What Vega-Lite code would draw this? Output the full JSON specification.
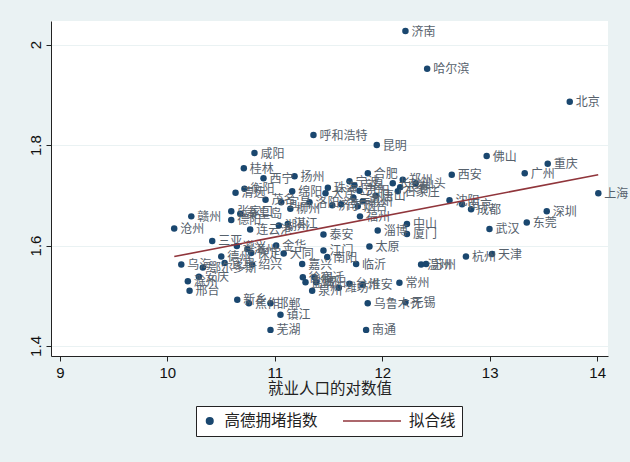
{
  "$schema": "https://vega.github.io/schema/vega-lite/v6.json",
  "width": 557,
  "height": 335,
  "autosize": {"type": "none"},
  "padding": {"left": 51, "top": 21, "right": 22, "bottom": 106},
  "background": "#eaf2f3",
  "config": {
    "view": {"stroke": null, "fill": "white"},
    "axis": {"labelFont": "Liberation Sans", "labelFontSize": 15, "labelColor": "#111", "domainColor": "#222", "tickColor": "#222", "tickSize": 5, "titleFont": "Noto Sans CJK SC", "titleFontWeight": "normal", "titleColor": "#222"},
    "legend": {"symbolStrokeWidth": 1.6, "labelOffset": 7}
  },
  "datasets": {
    "pts": [
      {"name": "济南", "x": 12.216, "y": 2.027},
      {"name": "哈尔滨", "x": 12.418, "y": 1.952},
      {"name": "北京", "x": 13.745, "y": 1.886},
      {"name": "呼和浩特", "x": 11.36, "y": 1.82},
      {"name": "昆明", "x": 11.949, "y": 1.8},
      {"name": "咸阳", "x": 10.811, "y": 1.784},
      {"name": "桂林", "x": 10.712, "y": 1.754},
      {"name": "西宁", "x": 10.895, "y": 1.734},
      {"name": "扬州", "x": 11.184, "y": 1.738},
      {"name": "衡阳", "x": 10.718, "y": 1.713},
      {"name": "清远", "x": 10.635, "y": 1.705},
      {"name": "绵阳", "x": 11.162, "y": 1.708},
      {"name": "茂名", "x": 10.914, "y": 1.691},
      {"name": "宜昌", "x": 11.06, "y": 1.686},
      {"name": "柳州", "x": 11.145, "y": 1.673},
      {"name": "张家口", "x": 10.595, "y": 1.668},
      {"name": "秦皇岛", "x": 10.679, "y": 1.663},
      {"name": "赣州", "x": 10.223, "y": 1.658},
      {"name": "德阳", "x": 10.595, "y": 1.651},
      {"name": "沧州", "x": 10.064, "y": 1.634},
      {"name": "连云港", "x": 10.771, "y": 1.632},
      {"name": "湖州", "x": 11.038, "y": 1.64},
      {"name": "湛江", "x": 11.121, "y": 1.643},
      {"name": "三亚", "x": 10.418, "y": 1.609},
      {"name": "遵义", "x": 10.647, "y": 1.599},
      {"name": "漳州", "x": 10.746, "y": 1.593},
      {"name": "保定", "x": 10.781, "y": 1.585},
      {"name": "绍兴", "x": 10.79, "y": 1.562},
      {"name": "金华", "x": 11.013, "y": 1.6},
      {"name": "大同", "x": 11.083, "y": 1.584},
      {"name": "德州", "x": 10.502, "y": 1.578},
      {"name": "宜宾", "x": 10.533, "y": 1.565},
      {"name": "乌海", "x": 10.13, "y": 1.562},
      {"name": "鄂尔多斯", "x": 10.331, "y": 1.556},
      {"name": "安庆", "x": 10.294, "y": 1.538},
      {"name": "滁州", "x": 10.191, "y": 1.529},
      {"name": "邢台", "x": 10.207, "y": 1.51},
      {"name": "新乡", "x": 10.651, "y": 1.492},
      {"name": "焦作", "x": 10.759, "y": 1.485},
      {"name": "邯郸", "x": 10.96, "y": 1.485},
      {"name": "镇江", "x": 11.053, "y": 1.462},
      {"name": "芜湖", "x": 10.96, "y": 1.432},
      {"name": "嘉兴", "x": 11.255, "y": 1.563},
      {"name": "泰安", "x": 11.453, "y": 1.622},
      {"name": "江门", "x": 11.453, "y": 1.59},
      {"name": "南阳", "x": 11.488, "y": 1.577},
      {"name": "临沂", "x": 11.757, "y": 1.563},
      {"name": "太原", "x": 11.881, "y": 1.598},
      {"name": "淄博", "x": 11.958, "y": 1.63},
      {"name": "中山", "x": 12.23, "y": 1.643},
      {"name": "厦门", "x": 12.23, "y": 1.623},
      {"name": "福州", "x": 11.793, "y": 1.658},
      {"name": "温州", "x": 12.362, "y": 1.562},
      {"name": "苏州", "x": 12.408, "y": 1.563},
      {"name": "徐州", "x": 11.261, "y": 1.537},
      {"name": "盐城", "x": 11.286, "y": 1.527},
      {"name": "宿迁", "x": 11.37, "y": 1.537},
      {"name": "揭阳", "x": 11.385, "y": 1.527},
      {"name": "泉州", "x": 11.348, "y": 1.51},
      {"name": "潍坊", "x": 11.596, "y": 1.516},
      {"name": "台州", "x": 11.695, "y": 1.524},
      {"name": "淮安", "x": 11.819, "y": 1.522},
      {"name": "常州", "x": 12.16, "y": 1.526},
      {"name": "乌鲁木齐", "x": 11.865, "y": 1.485},
      {"name": "无锡", "x": 12.216, "y": 1.487},
      {"name": "南通", "x": 11.85, "y": 1.432},
      {"name": "天津", "x": 13.022, "y": 1.583},
      {"name": "杭州", "x": 12.779, "y": 1.578},
      {"name": "武汉", "x": 12.998, "y": 1.633},
      {"name": "东莞", "x": 13.345, "y": 1.646},
      {"name": "深圳", "x": 13.531, "y": 1.668},
      {"name": "上海", "x": 14.011, "y": 1.704},
      {"name": "广州", "x": 13.326, "y": 1.744},
      {"name": "重庆", "x": 13.54, "y": 1.763},
      {"name": "佛山", "x": 12.972, "y": 1.778},
      {"name": "西安", "x": 12.647, "y": 1.741},
      {"name": "沈阳", "x": 12.626, "y": 1.69},
      {"name": "南京", "x": 12.743, "y": 1.682},
      {"name": "成都", "x": 12.827, "y": 1.672},
      {"name": "合肥", "x": 11.866, "y": 1.744},
      {"name": "宁波", "x": 11.695, "y": 1.728},
      {"name": "南昌", "x": 11.741, "y": 1.72},
      {"name": "贵阳", "x": 11.788, "y": 1.709},
      {"name": "长沙", "x": 12.098, "y": 1.724},
      {"name": "郑州", "x": 12.191, "y": 1.731},
      {"name": "长春", "x": 12.167, "y": 1.716},
      {"name": "石家庄", "x": 12.145, "y": 1.708},
      {"name": "汕头", "x": 12.311, "y": 1.724},
      {"name": "唐山", "x": 11.94, "y": 1.699},
      {"name": "济宁", "x": 11.535, "y": 1.68},
      {"name": "南宁", "x": 11.617, "y": 1.682},
      {"name": "兰州", "x": 11.732, "y": 1.695},
      {"name": "惠州", "x": 11.819, "y": 1.688},
      {"name": "烟台", "x": 11.772, "y": 1.678},
      {"name": "洛阳", "x": 11.323, "y": 1.686},
      {"name": "珠海", "x": 11.494, "y": 1.715},
      {"name": "大连", "x": 11.472, "y": 1.704}
    ],
    "fit": [
      {"x": 10.065, "y": 1.578, "series": "拟合线"},
      {"x": 14.01, "y": 1.741, "series": "拟合线"}
    ]
  },
  "layer": [
    {
      "data": {"name": "pts"},
      "transform": [{"calculate": "'高德拥堵指数'", "as": "series"}],
      "mark": {"type": "point", "filled": true, "opacity": 1},
      "encoding": {
        "x": {"field": "x", "type": "quantitative", "scale": {"domain": [8.9175, 14.101], "nice": false, "zero": false},
          "axis": {"values": [9, 10, 11, 12, 13, 14], "format": "d", "grid": false, "title": "就业人口的对数值", "titleFontSize": 15.5, "titlePadding": 1, "labelPadding": 4}},
        "y": {"field": "y", "type": "quantitative", "scale": {"domain": [1.38, 2.047], "nice": false, "zero": false},
          "axis": {"values": [1.4, 1.6, 1.8, 2], "format": "~g", "title": null, "grid": true, "gridColor": "#eaf2f3", "gridWidth": 1.2, "labelAngle": -90, "labelAlign": "center", "labelBaseline": "alphabetic", "labelPadding": 6}},
        "color": {"field": "series", "type": "nominal",
          "scale": {"domain": ["高德拥堵指数", "拟合线"], "range": ["#1a476f", "#90353b"]},
          "legend": {
            "title": null, "orient": "none", "legendX": 145, "legendY": 385,
            "direction": "horizontal", "columnPadding": 24, "clipHeight": 18,
            "padding": 6, "fillColor": "white", "strokeColor": "#222",
            "labelFont": "Noto Sans CJK SC", "labelFontSize": 15.5, "labelColor": "#222"
          }},
        "shape": {"field": "series", "type": "nominal",
          "scale": {"domain": ["高德拥堵指数", "拟合线"], "range": ["circle", "stroke"]}},
        "size": {"field": "series", "type": "ordinal",
          "scale": {"domain": ["高德拥堵指数", "拟合线"], "range": [42, 3364]}}
      }
    },
    {
      "data": {"name": "pts"},
      "mark": {"type": "text", "align": "left", "baseline": "middle", "dx": 6, "dy": 0.5, "font": "Noto Sans CJK SC", "fontSize": 12, "color": "#56616c"},
      "encoding": {
        "x": {"field": "x", "type": "quantitative"},
        "y": {"field": "y", "type": "quantitative"},
        "text": {"field": "name"}
      }
    },
    {
      "data": {"name": "fit"},
      "mark": {"type": "line", "strokeWidth": 1.6},
      "encoding": {
        "x": {"field": "x", "type": "quantitative"},
        "y": {"field": "y", "type": "quantitative"},
        "color": {"field": "series", "type": "nominal"}
      }
    }
  ]
}
